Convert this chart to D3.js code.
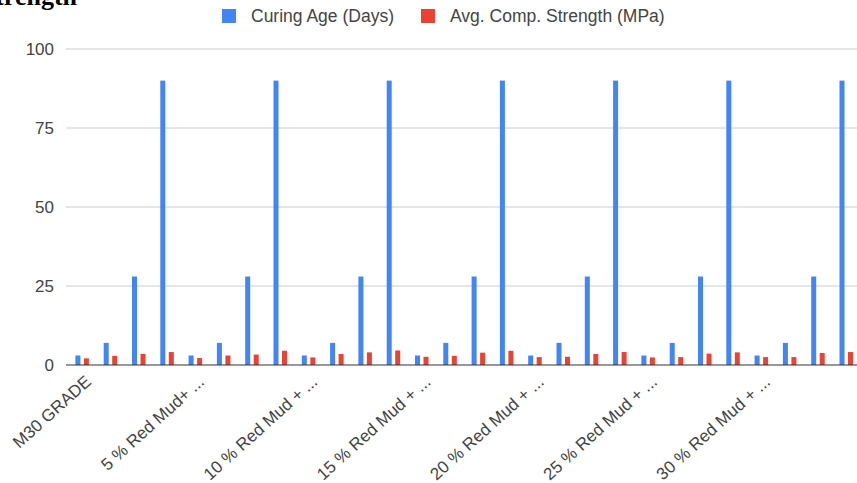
<!DOCTYPE html>
<html>
<head>
<meta charset="utf-8">
<script src="https://cdn.jsdelivr.net/npm/d3@7"></script>
<style>
  html, body { margin: 0; padding: 0; background: #fff; }
  svg { display: block; }
</style>
</head>
<body>
<svg id="chart" width="857" height="483"></svg>
<script>
// Mix designs (one label per group of four curing ages)
const mixLabels = [
  "M30 GRADE",
  "5 % Red Mud+ ...",
  "10 % Red Mud + ...",
  "15 % Red Mud + ...",
  "20 % Red Mud + ...",
  "25 % Red Mud + ...",
  "30 % Red Mud + ..."
];

// Curing age in days, one value per category
const curingAge = [
  3, 7, 28, 90,
  3, 7, 28, 90,
  3, 7, 28, 90,
  3, 7, 28, 90,
  3, 7, 28, 90,
  3, 7, 28, 90,
  3, 7, 28, 90
];

// Average compressive strength (MPa), one value per category
const avgStrength = [
  2.1, 2.9, 3.5, 4.1,
  2.2, 3.0, 3.3, 4.5,
  2.4, 3.5, 4.0, 4.6,
  2.6, 2.9, 3.9, 4.5,
  2.5, 2.6, 3.5, 4.1,
  2.4, 2.5, 3.6, 4.0,
  2.5, 2.5, 3.8, 4.1
];

const yTicks = [0, 25, 50, 75, 100];

const seriesNames = ["Curing Age (Days)", "Avg. Comp. Strength (MPa)"];
const seriesColors = ["#4285F4", "#EA4335"];

const svg = d3.select("#chart");
const font = "Arial, 'Liberation Sans', sans-serif";

const categories = d3.range(curingAge.length);
const rows = categories.map(i => ({
  i,
  label: i % 4 === 0 ? mixLabels[i / 4] : "",
  values: [curingAge[i], avgStrength[i]]
}));

const x = d3.scaleBand().domain(categories).range([68, 860.4]).padding(0);
const inner = d3.scaleBand().domain([0, 1])
  .range([x.bandwidth() / 2 - 6.75, x.bandwidth() / 2 + 6.75])
  .paddingInner(0.412);
const y = d3.scaleLinear().domain([0, 100]).range([365, 49]);

// Title fragment at the top-left edge
svg.append("text")
  .attr("x", 77).attr("y", 5)
  .attr("text-anchor", "end")
  .attr("font-family", "'Liberation Serif', 'Times New Roman', serif")
  .attr("font-weight", "bold")
  .attr("font-size", 26)
  .attr("fill", "#000")
  .text("Strength");

// Gridlines and y tick labels
const yAxis = d3.axisLeft(y).tickValues(yTicks).tickSize(0).tickPadding(0);
const gy = svg.append("g").attr("transform", "translate(54,0)").call(yAxis);
gy.select(".domain").remove();
gy.selectAll("text")
  .attr("font-family", font).attr("font-size", 17).attr("fill", "#444");

svg.append("g").selectAll("line")
  .data(yTicks.filter(t => t !== 0))
  .join("line")
  .attr("x1", 66).attr("x2", 857)
  .attr("y1", d => y(d)).attr("y2", d => y(d))
  .attr("stroke", "#cccccc").attr("stroke-width", 1);

// Bars
const groups = svg.append("g").selectAll("g")
  .data(rows)
  .join("g")
  .attr("transform", d => `translate(${x(d.i)},0)`);

groups.selectAll("rect")
  .data(d => d.values.map((v, k) => ({ k, v })))
  .join("rect")
  .attr("x", d => inner(d.k))
  .attr("width", inner.bandwidth())
  .attr("y", d => y(d.v))
  .attr("height", d => y(0) - y(d.v))
  .attr("fill", d => seriesColors[d.k]);

// Baseline
svg.append("line")
  .attr("x1", 66).attr("x2", 857)
  .attr("y1", y(0)).attr("y2", y(0))
  .attr("stroke", "#333").attr("stroke-width", 1.2);

// Rotated category labels
const xAxis = d3.axisBottom(x).tickSize(0).tickFormat(i => rows[i].label);
const gx = svg.append("g").attr("transform", `translate(0,${y(0)})`).call(xAxis);
gx.select(".domain").remove();
gx.selectAll("text")
  .attr("font-family", font).attr("font-size", 17).attr("fill", "#444")
  .attr("text-anchor", "end")
  .attr("dy", 0)
  .attr("transform", "translate(8,16) rotate(-42)");

// Legend
const legendX = [222, 421];
const legend = svg.append("g").selectAll("g")
  .data(seriesNames)
  .join("g")
  .attr("transform", (d, k) => `translate(${legendX[k]},9)`);
legend.append("rect")
  .attr("width", 14).attr("height", 14)
  .attr("fill", (d, k) => seriesColors[k]);
legend.append("text")
  .attr("x", 29).attr("y", 13)
  .attr("font-family", font).attr("font-size", 17.5).attr("fill", "#444")
  .text(d => d);
</script>
</body>
</html>
